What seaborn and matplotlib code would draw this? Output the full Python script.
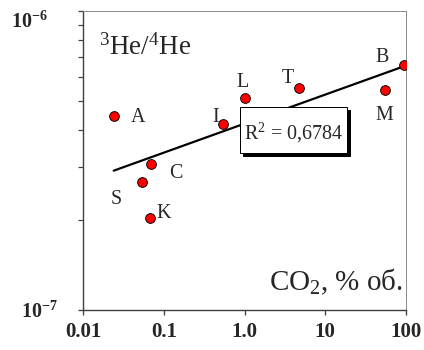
import numpy as np
import pandas as pd
import matplotlib
matplotlib.use("Agg")
import matplotlib.pyplot as plt
import seaborn as sns
import matplotlib.ticker as mticker
from matplotlib.patches import Rectangle
from matplotlib.transforms import ScaledTranslation

# ---- data ----
labels = ["A", "C", "S", "K", "I", "L", "T", "B", "M"]
co2 = [0.024, 0.070, 0.054, 0.068, 0.54, 1.01, 4.7, 95.0, 55.0]
he_ratio = [4.47e-7, 3.07e-7, 2.67e-7, 2.03e-7, 4.20e-7, 5.13e-7, 5.54e-7, 6.60e-7, 5.45e-7]
# label offsets (points) relative to each marker
label_dx = [24, 25, -26, 13, -7, -2, -11, -22, -1]
label_dy = [-2, -9, -17, 5, 6, 15, 9, 7, -26]

x_ticks = [0.01, 0.1, 1, 10, 100]
x_tick_labels = ["0.01", "0.1", "1.0", "10", "100"]
y_ticks = [1e-7, 1e-6]
y_tick_labels = [r"$\mathbf{10^{-7}}$", r"$\mathbf{10^{-6}}$"]
r2_text = r"R$^2$ = 0,6784"
title_text = r"$^3$He/$^4$He"
xlabel_text = r"CO$_2$, % об."

df = pd.DataFrame({"co2": co2, "he": he_ratio, "label": labels})

# power-law trend line (linear fit in log-log)
lx = np.log10(df["co2"].values)
ly = np.log10(df["he"].values)
slope, intercept = np.polyfit(lx, ly, 1)
fit_x = np.array([df["co2"].min(), df["co2"].max()])
fit_y = 10 ** (intercept + slope * np.log10(fit_x))
fit_df = pd.DataFrame({"co2": fit_x, "he": fit_y})

# ---- style ----
sns.set_style("ticks")
plt.rcParams["font.family"] = ["Liberation Serif", "DejaVu Serif"]
plt.rcParams["mathtext.fontset"] = "custom"
plt.rcParams["mathtext.rm"] = "Liberation Serif"
plt.rcParams["mathtext.it"] = "Liberation Serif:italic"
plt.rcParams["mathtext.bf"] = "Liberation Serif:bold"

DPI = 72
fig = plt.figure(figsize=(424 / DPI, 350 / DPI), dpi=DPI)
ax = fig.add_axes([83 / 424, 1 - 310 / 350, 323 / 424, 299 / 350])

sns.lineplot(data=fit_df, x="co2", y="he", ax=ax, color="black", linewidth=2.2, zorder=2)
sns.scatterplot(data=df, x="co2", y="he", ax=ax, s=95, color="#ff0000",
                edgecolor="black", linewidth=0.9, zorder=4, legend=False)

for i, row in df.iterrows():
    ax.annotate(row["label"], (row["co2"], row["he"]), xytext=(label_dx[i], label_dy[i]),
                textcoords="offset points", ha="center", va="center", fontsize=20, zorder=5)

ax.set_xscale("log")
ax.set_yscale("log")
ax.set_xlim(0.01, 100)
ax.set_ylim(1e-7, 1e-6)
ax.set_xlabel("")
ax.set_ylabel("")

ax.set_xticks(x_ticks)
ax.set_xticklabels(x_tick_labels, fontsize=21, fontweight="bold")
ax.xaxis.set_minor_locator(mticker.NullLocator())
ax.set_yticks(y_ticks)
ax.set_yticklabels(y_tick_labels, fontsize=20)
ax.yaxis.set_minor_locator(mticker.LogLocator(base=10, subs=np.arange(2, 10)))
ax.yaxis.set_minor_formatter(mticker.NullFormatter())

ax.tick_params(axis="x", which="major", direction="out", length=5, width=1.3,
               color="#404040", pad=7)
ax.tick_params(axis="y", which="major", direction="out", length=5, width=1.3,
               color="#404040", pad=20)
ax.tick_params(axis="y", which="minor", direction="out", length=5, width=1.2,
               color="#404040")

for side in ["left", "bottom"]:
    ax.spines[side].set_color("#404040")
    ax.spines[side].set_linewidth(1.4)
for side in ["top", "right"]:
    ax.spines[side].set_color("#8c8c8c")
    ax.spines[side].set_linewidth(1.0)

# shift the y tick labels like the reference
ylabs = ax.get_yticklabels()
ylabs[1].set_transform(ylabs[1].get_transform() + ScaledTranslation(-10 / DPI, -9 / DPI, fig.dpi_scale_trans))

# texts
ax.text(0.050, 0.853, title_text, transform=ax.transAxes, fontsize=27, ha="left", va="baseline")
ax.text(0.991, 0.067, xlabel_text, transform=ax.transAxes, fontsize=29, ha="right", va="baseline")

# R^2 box with shadow
bx0, bx1 = (240 - 83) / 323, (347 - 83) / 323
by0, by1 = (310 - 153) / 299, (310 - 107) / 299
sdx, sdy = 3 / 323, 3 / 299
ax.add_patch(Rectangle((bx0 + sdx, by0 - sdy), bx1 - bx0, by1 - by0, transform=ax.transAxes,
                       facecolor="black", edgecolor="black", zorder=6))
ax.add_patch(Rectangle((bx0, by0), bx1 - bx0, by1 - by0, transform=ax.transAxes,
                       facecolor="white", edgecolor="black", linewidth=1.0, zorder=7))
ax.text((bx0 + bx1) / 2, (310 - 139) / 299, r2_text, transform=ax.transAxes,
        fontsize=20, ha="center", va="baseline", zorder=8)

fig.savefig("out.png", dpi=DPI)
